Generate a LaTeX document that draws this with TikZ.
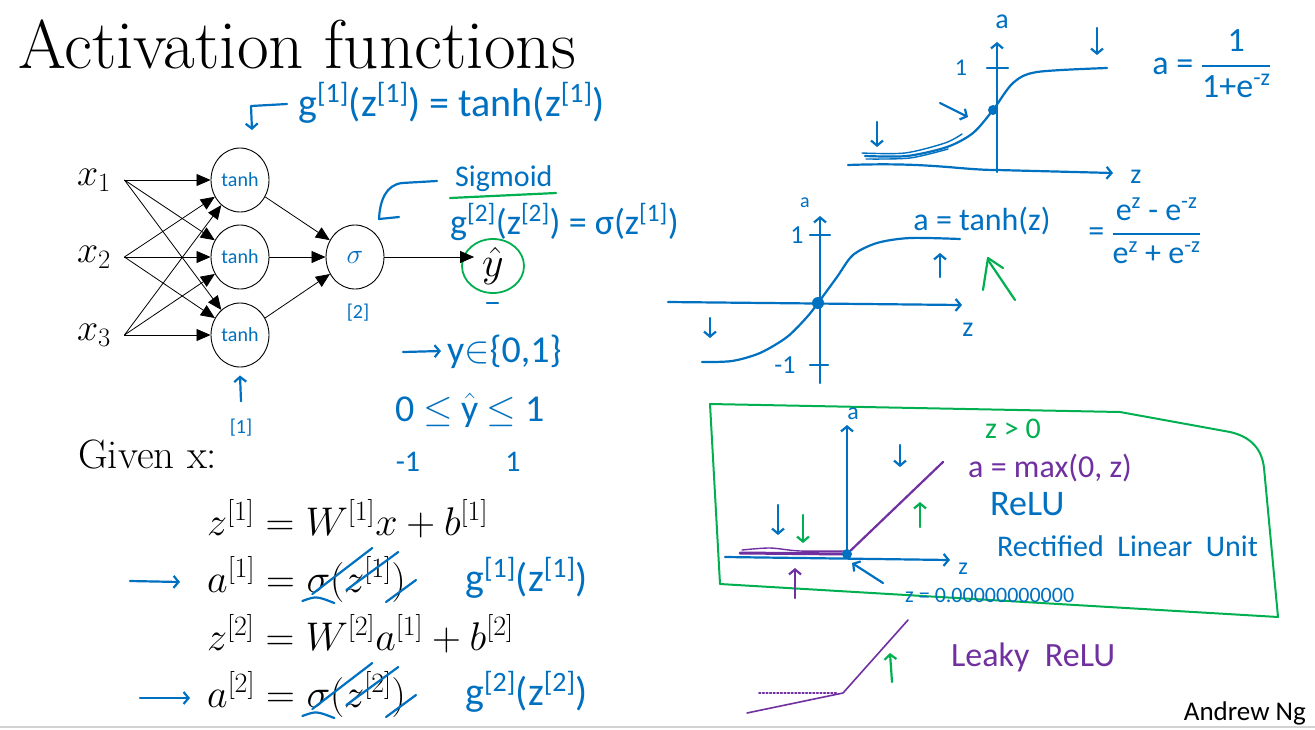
\RequirePackage{fix-cm}
\documentclass[tikz,border=0pt]{standalone}
\usepackage{amsmath,amssymb}
\usepackage{fontspec}
\newfontfamily\handfont{Carlito}
\usetikzlibrary{arrows.meta,shapes.geometric,calc}
\definecolor{penblue}{RGB}{0,112,192}
\definecolor{pengreen}{RGB}{0,176,80}
\definecolor{penpurple}{RGB}{112,48,160}
\newcommand{\fs}[1]{\fontsize{#1}{#1}\selectfont}
\newcommand{\sq}[1]{\textsuperscript{[#1]}}

\begin{document}
\begin{tikzpicture}[x=1pt,y=-1pt,
  neuron/.style={draw, ellipse, minimum width=58pt, minimum height=64pt, inner sep=0pt, line width=0.9pt},
  link/.style={line width=0.8pt, -{Triangle[length=14pt,width=12pt]}},
  ink/.style={line width=2.2pt, line cap=round, line join=round},
  bluepen/.style={ink, penblue},
  greenpen/.style={ink, pengreen},
  purplepen/.style={ink, penpurple},
  pentip/.style={-{Straight Barb[length=5pt,width=12pt]}},
  hand/.style={font=\handfont\fs{#1}, inner sep=0pt},
  eq/.style={anchor=base west, font=\fs{40}, inner sep=0pt},
]
\useasboundingbox (0,0) rectangle (1315,729);
\fill[white] (0,0) rectangle (1315,729);
\draw[gray!35, line width=1.5pt] (0,727) -- (1315,727);

% Title
\node[anchor=base west, inner sep=0pt, font=\fs{69}] (title) at (18,68) {Activation functions};

% Network
\foreach \i/\y in {1/180,2/257,3/335} {
  \node[font=\fs{38}] (x\i) at (94,\y) {$x_{\i}$};
  \node[neuron] (h\i) at (240,\y) {\handfont\fs{20}\color{penblue}tanh};
}
\node[neuron] (out) at (355,257) {\fs{28}\color{penblue}$\sigma$};
\node[draw=pengreen, line width=1.8pt, ellipse, minimum width=62pt, minimum height=54pt, inner sep=0pt, font=\fs{42}] (yhat) at (493,266) {$\hat{y}$};
\foreach \i in {1,2,3} {
  \foreach \j in {1,2,3}
    \draw[link] ([xshift=10pt]x\i.east) -- (h\j);
  \draw[link] (h\i) -- (out);
}
\draw[link] (out.east) -- ($(out.east -| yhat.west)+(13,0)$);

% Notes on the network
\node[hand=40, text=penblue, anchor=west] (gone) at (298,103) {g\sq{1}(z\sq{1}) = tanh(z\sq{1})};
\draw[bluepen, pentip] (287,104) -- (251,106) -- (252,130);
\node[hand=30, text=penblue, anchor=west] (sig) at (455,179) {Sigmoid};
\draw[greenpen] (450,198) -- (556,193);
\node[hand=36, text=penblue, anchor=west] (gtwo) at (450,222) {g\sq{2}(z\sq{2}) = σ(z\sq{1})};
\draw[bluepen] (437,181) -- (402,183) .. controls (386,185) and (380,200) .. (379,219) -- (399,217);
\draw[bluepen] (487,303) -- (498,303);
\node[hand=20, text=penblue] (ltwo) at (358,313) {[2]};
\node[hand=20, text=penblue] (lone) at (241,428) {[1]};
\draw[bluepen, pentip] ([yshift=18pt]lone.north) -- ([yshift=-8pt]h3.south);
\draw[bluepen, pentip] (403,352) -- (441,351);
\node[hand=38, text=penblue, anchor=west] (yset) at (447,352) {y$\in$\{0,1\}};
\node[hand=38, text=penblue, anchor=west] (yrange) at (395,410) {0 $\le$ $\hat{\mbox{y}}$ $\le$ 1};
\node[hand=30, text=penblue] (mone) at (408,462) {-1};
\node[hand=30, text=penblue] (pone) at (513,462) {1};

% Equations
\node[anchor=base west, inner sep=0pt, font=\fs{41}] (given) at (78,468) {Given x:};
\node[eq] (zone) at (207,535) {$z^{[1]} = W^{[1]}x + b^{[1]}$};
\node[eq] (aone) at (207,592) {$a^{[1]} = {}$};
\node[eq] (sone) at (aone.base east) {$\sigma(z^{[1]})$};
\node[eq] (ztwo) at (207,650) {$z^{[2]} = W^{[2]}a^{[1]} + b^{[2]}$};
\node[eq] (atwo) at (207,707) {$a^{[2]} = {}$};
\node[eq] (stwo) at (atwo.base east) {$\sigma(z^{[2]})$};
\foreach \s in {sone,stwo} {
  \draw[bluepen] ($(\s.base west)+(-4,9)$) .. controls ($(\s.base west)+(10,4)$) .. ($(\s.base west)+(28,11)$);
  \draw[bluepen] ($(\s.base west)+(6,2)$) -- ($(\s.base west)+(66,-44)$);
  \draw[bluepen] ($(\s.base west)+(40,-2)$) -- ($(\s.base west)+(92,-40)$);
  \draw[bluepen] ($(\s.base east)+(-20,10)$) -- ($(\s.base east)+(10,-12)$);
}
\node[hand=40, text=penblue, anchor=west] (gzone) at (465,578) {g\sq{1}(z\sq{1})};
\node[hand=40, text=penblue, anchor=west] (gztwo) at (465,692) {g\sq{2}(z\sq{2})};
\draw[bluepen, pentip] (130,581) -- (180,582);
\draw[bluepen, pentip] (140,698) -- (190,698);

% Sigmoid plot
\draw[bluepen, pentip] (997,172) -- (997,42);
\draw[bluepen, pentip] (848,165) .. controls (930,162) and (960,170) .. (997,170) -- (1113,173);
\draw[bluepen] (987,68) -- (1008,68);
\node[hand=28, text=penblue] (sa) at (1002,22) {a};
\node[hand=28, text=penblue] (sz) at (1136,177) {z};
\node[hand=24, text=penblue] (stick) at (961,68) {1};
\draw[bluepen] plot[smooth] coordinates {(865,156) (907,156) (947,147) (973,133) (993,110) (1013,83) (1037,72) (1107,68)};
\draw[bluepen, line width=1.4pt] plot[smooth] coordinates {(862,153) (905,153) (945,143) (962,134)};
\draw[bluepen, line width=1.4pt] plot[smooth] coordinates {(866,159) (910,158) (948,149)};
\fill[penblue] (993,110) circle (5);
\draw[bluepen, pentip] (1097,28) -- (1097,55);
\draw[bluepen, pentip] (877,122) -- (877,147);
\draw[bluepen, pentip] (940,103) -- (968,117);
\node[hand=34, text=penblue] (sigf) at (1212,64) {a = $\dfrac{\text{1}}{\text{1+e}^{\text{-z}}}$};

% tanh plot
\draw[bluepen, pentip] (820,383) -- (820,216);
\draw[bluepen, pentip] (668,302) -- (962,305);
\draw[bluepen] (810,235) -- (830,235);
\draw[bluepen] (810,365) -- (828,365);
\node[hand=20, text=penblue] (ta) at (805,203) {a};
\node[hand=26, text=penblue] (tone) at (797,235) {1};
\node[hand=26, text=penblue] (tmone) at (785,365) {-1};
\node[hand=28, text=penblue] (tz) at (968,330) {z};
\draw[bluepen] plot[smooth] coordinates {(702,362) (732,361) (760,353) (787,337) (807,317) (818,303) (837,277) (853,255) (877,243) (910,238) (960,239)};
\fill[penblue] (818,303) circle (6);
\draw[bluepen, pentip] (710,318) -- (710,338);
\draw[bluepen, pentip] (940,277) -- (940,253);
\draw[greenpen] (983,290) -- (988,258) -- (1003,268);
\draw[greenpen] (988,260) -- (1015,300);
\node[hand=32, text=penblue] (tanhf) at (982,221) {a = tanh(z)};
\node[hand=32, text=penblue] (tanhx) at (1145,231) {= $\dfrac{\text{e\textsuperscript{z} - e\textsuperscript{-z}}}{\text{e\textsuperscript{z} + e\textsuperscript{-z}}}$};

% ReLU box
\draw[greenpen, line width=2pt] (710,404) -- (1120,412) -- (1230,432) .. controls (1252,437) and (1262,450) .. (1264,468) -- (1278,617) -- (720,584) -- cycle;
\draw[bluepen, pentip] (847,554) -- (847,425);
\draw[bluepen, pentip] (725,557) -- (950,560);
\node[hand=24, text=penblue] (ra) at (853,414) {a};
\node[hand=24, text=penblue] (rz) at (963,569) {z};
\draw[purplepen, line width=3pt] (740,553) -- (847,554);
\draw[purplepen, line width=1.4pt] plot[smooth] coordinates {(742,550) (770,548) (800,551) (846,551)};
\draw[purplepen] (847,554) -- (943,462);
\fill[penblue] (847,554) circle (5);
\draw[bluepen, pentip] (900,445) -- (900,467);
\draw[bluepen, pentip] (778,505) -- (778,535);
\draw[greenpen, pentip] (803,515) -- (803,543);
\draw[purplepen, pentip] (795,598) -- (795,568);
\draw[bluepen, pentip] (883,583) -- (852,563);
\draw[greenpen, pentip] (920,527) -- (920,502);
\node[hand=30, text=pengreen] (zpos) at (1013,429) {z > 0};
\node[hand=32, text=penpurple, anchor=west] (relueq) at (968,468) {a = max(0, z)};
\node[hand=36, text=penblue, anchor=west] (relu) at (990,504) {ReLU};
\node[hand=30, text=penblue, anchor=west] (reluname) at (997,546) {Rectified \ Linear \ Unit};
\node[hand=22, text=penblue, anchor=west] (zzero) at (905,595) {z = 0.00000000000};

% Leaky ReLU
\draw[purplepen, line width=1.6pt] (747,713) -- (843,693) -- (908,620);
\draw[purplepen, line width=1.6pt, dotted] (759,693) -- (837,693);
\draw[greenpen, pentip] (892,682) -- (890,653);
\node[hand=34, text=penpurple, anchor=west] (leaky) at (951,657) {Leaky \ ReLU};

% Footer
\node[anchor=base east, inner sep=0pt, font=\handfont\fs{27}] (author) at (1306,720) {Andrew Ng};
\end{tikzpicture}
\end{document}
